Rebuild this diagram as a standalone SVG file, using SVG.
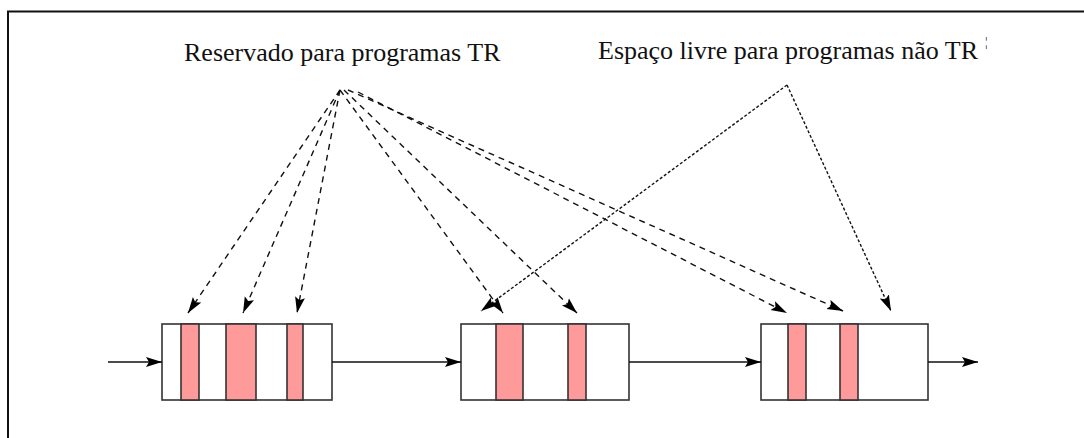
<svg xmlns="http://www.w3.org/2000/svg" width="1084" height="438" viewBox="0 0 1084 438">
<style>
.frame{stroke:#111;stroke-width:2;fill:none}
.box{fill:#fff;stroke:#333;stroke-width:1.6}
.res{fill:#ff9a9a;stroke:#333;stroke-width:1.6}
.flow{stroke:#111;stroke-width:1.4;fill:none}
.dash{stroke:#111;stroke-width:1.4;fill:none;stroke-dasharray:6 5}
.dot{stroke:#111;stroke-width:1.4;fill:none;stroke-dasharray:3 2}
.lbl{font-family:"Liberation Serif","Times New Roman",serif;font-size:26px;fill:#111}
</style>
<defs>
<marker id="ah" markerUnits="userSpaceOnUse" markerWidth="18" markerHeight="12" refX="16" refY="5.5" orient="auto">
<path d="M0,0.5 L16,5.5 L0,10.5 L3,5.5 z" fill="#000"/>
</marker>
</defs>
<rect width="1084" height="438" fill="#fff"/>
<path class="frame" d="M8,438 V11.5 H1084"/>
<g id="label-reservado"><text class="lbl" x="184" y="61">Reservado para programas TR</text></g>
<g id="label-livre"><text class="lbl" x="598" y="59">Espaço livre para programas não TR</text><text x="985" y="46" font-family="Liberation Serif,serif" font-size="13" fill="#111">¦</text></g>
<g id="buffer1">
<rect class="box" x="162" y="324" width="170" height="76"/>
<rect class="res" x="181" y="324" width="18" height="76"/>
<rect class="res" x="226" y="324" width="30" height="76"/>
<rect class="res" x="287" y="324" width="16" height="76"/>
</g>
<g id="buffer2">
<rect class="box" x="461" y="324" width="168" height="76"/>
<rect class="res" x="496" y="324" width="27" height="76"/>
<rect class="res" x="568" y="324" width="18" height="76"/>
</g>
<g id="buffer3">
<rect class="box" x="761" y="324" width="167" height="76"/>
<rect class="res" x="788" y="324" width="18" height="76"/>
<rect class="res" x="840" y="324" width="18" height="76"/>
</g>
<g id="connectors">
<line class="flow" x1="108" y1="362" x2="162" y2="362" marker-end="url(#ah)"/>
<line class="flow" x1="332" y1="362" x2="461" y2="362" marker-end="url(#ah)"/>
<line class="flow" x1="629" y1="362" x2="761" y2="362" marker-end="url(#ah)"/>
<line class="flow" x1="928" y1="362" x2="978" y2="362" marker-end="url(#ah)"/>
<line class="dash" x1="340" y1="90" x2="188" y2="313" marker-end="url(#ah)"/>
<line class="dash" x1="340" y1="90" x2="243" y2="313" marker-end="url(#ah)"/>
<line class="dash" x1="340" y1="90" x2="297" y2="313" marker-end="url(#ah)"/>
<line class="dash" x1="340" y1="90" x2="503" y2="313" marker-end="url(#ah)"/>
<line class="dash" x1="344" y1="90" x2="577" y2="313" marker-end="url(#ah)"/>
<line class="dash" x1="358" y1="92" x2="787" y2="313" marker-end="url(#ah)"/>
<line class="dash" x1="348" y1="90" x2="843" y2="311" marker-end="url(#ah)"/>
<line class="dot" x1="787" y1="85" x2="481" y2="311" marker-end="url(#ah)"/>
<line class="dot" x1="787" y1="85" x2="891" y2="311" marker-end="url(#ah)"/>
</g>
</svg>
